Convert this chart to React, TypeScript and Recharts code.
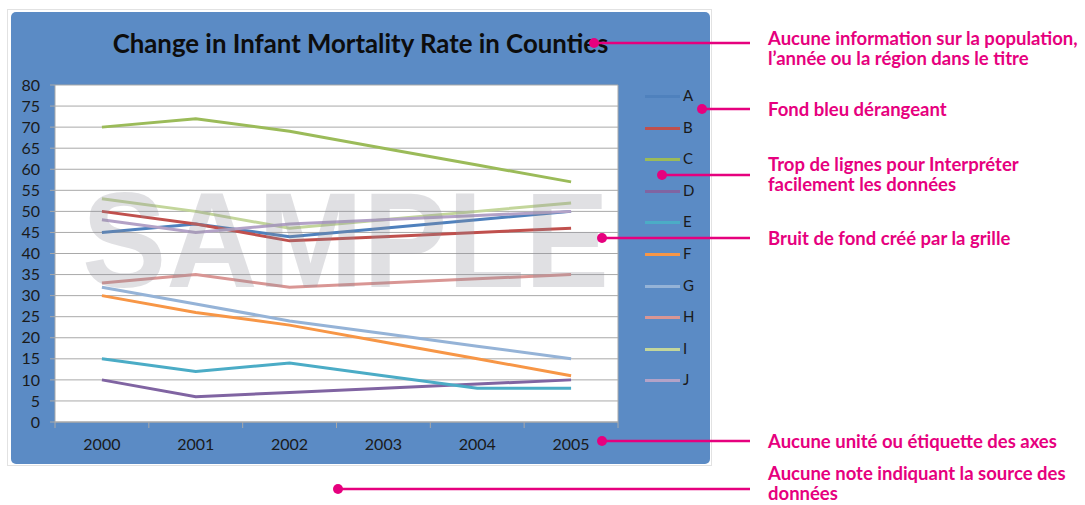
import React from 'react';
import { LineChart, Line, XAxis, YAxis, CartesianGrid } from 'recharts';

// years on the category axis
const years = [2000, 2001, 2002, 2003, 2004, 2005];
// boundaries between years, used for the small axis ticks
const yearEdges = [1999.5, 2000.5, 2001.5, 2002.5, 2003.5, 2004.5, 2005.5];
const yTicks = [0, 5, 10, 15, 20, 25, 30, 35, 40, 45, 50, 55, 60, 65, 70, 75, 80];

const seriesNames = ['A', 'B', 'C', 'D', 'E', 'F', 'G', 'H', 'I', 'J'];
const seriesA = [45, 47, 44, 46, 48, 50];
const seriesB = [50, 47, 43, 44, 45, 46];
const seriesC = [70, 72, 69, 65, 61, 57];
const seriesD = [10, 6, 7, 8, 9, 10];
const seriesE = [15, 12, 14, 11, 8, 8];
const seriesF = [30, 26, 23, 19, 15, 11];
const seriesG = [32, 28, 24, 21, 18, 15];
const seriesH = [33, 35, 32, 33, 34, 35];
const seriesI = [53, 50, 46, 48, 50, 52];
const seriesJ = [48, 45, 47, 48, 49, 50];
const seriesValues = [seriesA, seriesB, seriesC, seriesD, seriesE, seriesF, seriesG, seriesH, seriesI, seriesJ];

const title = 'Change in Infant Mortality Rate in Counties';
const watermark = 'SAMPLE';

const notes = [
  ['Aucune information sur la population,', 'l’année ou la région dans le titre'],
  ['Fond bleu dérangeant'],
  ['Trop de lignes pour Interpréter', 'facilement les données'],
  ['Bruit de fond créé par la grille'],
  ['Aucune unité ou étiquette des axes'],
  ['Aucune note indiquant la source des', 'données'],
];

const palette = ['#4F81BD', '#C0504D', '#9BBB59', '#8064A2', '#4BACC6', '#F79646', '#95B3D7', '#D99694', '#C3D69B', '#B3A2C7'];
const PINK = '#E6007E';
const GRID = '#a9a9a9';
const PANEL = '#5b8bc5';
const chartFont = 'Lato, "Open Sans", sans-serif';

const rows = years.map((year, i) => {
  const row: Record<string, number> = { year };
  seriesNames.forEach((name, s) => {
    row[name] = seriesValues[s][i];
  });
  return row;
});

// x axis tick: label on whole years, short tick mark on the boundaries
const YearTick = (props: any) => {
  const { x, y, payload } = props;
  const v = payload.value;
  if (Number.isInteger(v)) {
    return (
      <text x={x} y={y + 28} textAnchor="middle" fontSize={16} fill="#1a1a1a" fontFamily={chartFont}>
        {v}
      </text>
    );
  }
  return <line x1={x} x2={x} y1={y} y2={y + 6} stroke={GRID} strokeWidth={1} />;
};

// pink callout: dot, line and the note text
const noteLayout = [
  { dotX: 594, y: 43, textY: 28 },
  { dotX: 702, y: 109, textY: 99 },
  { dotX: 662, y: 175, textY: 154 },
  { dotX: 602, y: 238, textY: 228 },
  { dotX: 602, y: 441, textY: 431 },
  { dotX: 338, y: 489, textY: 463 },
];

export default function App() {
  return (
    <div style={{ position: 'absolute', left: 0, top: 0, width: 1085, height: 505, background: '#fff', overflow: 'hidden' }}>
      {/* faint frame of the screenshot */}
      <div style={{ position: 'absolute', left: 7, top: 9, width: 705, height: 457, border: '1px solid #e2e2e2', boxSizing: 'border-box' }} />
      <div
        style={{
          position: 'absolute',
          left: 11,
          top: 12,
          width: 699,
          height: 452,
          background: PANEL,
          borderRadius: 5,
        }}
      >
        <div
          style={{
            position: 'absolute',
            left: 0,
            top: 16,
            width: 699,
            textAlign: 'center',
            fontFamily: chartFont,
            fontWeight: 700,
            fontSize: 25.8,
            color: '#0d0d0d',
          }}
        >
          {title}
        </div>
        <LineChart width={699} height={452} data={rows} margin={{ top: 73, right: 91, bottom: 0, left: 0 }}>
          <CartesianGrid vertical={false} fill="#ffffff" stroke={GRID} strokeWidth={1} />
          <XAxis
            dataKey="year"
            type="number"
            domain={[1999.5, 2005.5]}
            ticks={yearEdges.concat(years)}
            interval={0}
            height={42}
            tickSize={0}
            tickMargin={0}
            tickLine={false}
            axisLine={{ stroke: GRID }}
            tick={<YearTick />}
          />
          <YAxis
            domain={[0, 80]}
            ticks={yTicks}
            interval={0}
            width={44}
            tickSize={5}
            tickMargin={10}
            axisLine={{ stroke: GRID }}
            tickLine={{ stroke: GRID }}
            tick={{ fill: '#1a1a1a', fontSize: 16, fontFamily: chartFont }}
          />
          <YAxis
            yAxisId="edge"
            orientation="right"
            domain={[0, 80]}
            width={1}
            tick={false}
            tickLine={false}
            axisLine={{ stroke: GRID }}
          />
          {seriesNames.map((name, idx) => (
            <Line
              key={name}
              type="linear"
              dataKey={name}
              stroke={palette[idx]}
              strokeWidth={3}
              dot={false}
              activeDot={false}
              isAnimationActive={false}
            />
          ))}
        </LineChart>
        {/* legend */}
        {seriesNames.map((name, idx) => (
          <div key={name} style={{ position: 'absolute', left: 634, top: 84 + idx * 31.6 - 10, height: 20, width: 70 }}>
            <div style={{ position: 'absolute', left: 0, top: 9, width: 35, height: 3, background: palette[idx] }} />
            <div style={{ position: 'absolute', left: 38, top: 0, fontFamily: chartFont, fontSize: 15, color: '#1a1a1a' }}>
              {name}
            </div>
          </div>
        ))}
      </div>
      <svg width={1085} height={505} style={{ position: 'absolute', left: 0, top: 0, pointerEvents: 'none' }}>
        <text
          x={82}
          y={287}
          fontSize={135}
          fontWeight={700}
          fontFamily='"Liberation Sans", Arial, sans-serif'
          textLength={527}
          lengthAdjust="spacingAndGlyphs"
          fill="rgb(140,140,150)"
          fillOpacity={0.27}
        >
          {watermark}
        </text>
        {noteLayout.map((n, i) => (
          <g key={i}>
            <line x1={n.dotX} x2={750} y1={n.y} y2={n.y} stroke={PINK} strokeWidth={2.5} />
            <circle cx={n.dotX} cy={n.y} r={5} fill={PINK} />
          </g>
        ))}
      </svg>
      {notes.map((lines, i) => (
        <div
          key={i}
          style={{
            position: 'absolute',
            left: 768,
            top: noteLayout[i].textY,
            fontFamily: 'Lato, sans-serif',
            fontWeight: 700,
            fontSize: 18.5,
            lineHeight: '20px',
            color: PINK,
            whiteSpace: 'nowrap',
          }}
        >
          {lines.map((l, j) => (
            <div key={j}>{l}</div>
          ))}
        </div>
      ))}
    </div>
  );
}
